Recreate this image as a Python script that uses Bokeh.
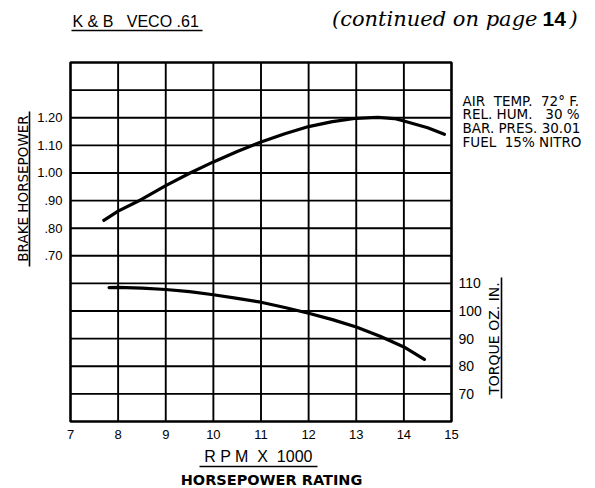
import math
from bokeh.plotting import figure
from bokeh.models import (Range1d, LinearAxis, FixedTicker, CustomJSTickFormatter,
                          Label, Arrow)
from bokeh.embed import file_html
from bokeh.resources import INLINE

# ---- data ----
rpm_ticks = [7, 8, 9, 10, 11, 12, 13, 14, 15]
hp_grid = [0.1, 0.2, 0.3, 0.4, 0.5, 0.6, 0.7, 0.8, 0.9, 1.0, 1.1, 1.2, 1.3, 1.4]
hp_ticks = [0.7, 0.8, 0.9, 1.0, 1.1, 1.2]
torque_ticks = [70, 80, 90, 100, 110]

hp_rpm = [7.70, 8.0, 8.5, 9.0, 9.5, 10.0, 10.5, 11.0, 11.5, 12.0, 12.5, 13.0, 13.45, 13.8, 14.0, 14.5, 14.85]
hp_val = [0.828, 0.862, 0.905, 0.954, 0.999, 1.040, 1.078, 1.112, 1.142, 1.168, 1.186, 1.198, 1.201, 1.197, 1.188, 1.164, 1.140]

tq_rpm = [7.81, 8.0, 8.5, 9.0, 9.5, 10.0, 10.5, 11.0, 11.5, 12.0, 12.5, 13.0, 13.5, 14.0, 14.43]
tq_val = [108.5, 108.6, 108.3, 107.8, 107.0, 105.9, 104.6, 103.2, 101.3, 99.2, 96.9, 94.2, 90.9, 87.0, 82.5]

NB = "\u00a0"
notes = ["AIR" + NB + " TEMP." + NB + " 72°" + NB + "F.",
         "REL." + NB + "HUM." + NB + NB + " 30" + NB + "%",
         "BAR. PRES. 30.01",
         "FUEL" + NB + " 15% NITRO"]

W, H = 595, 488
FONT = "Liberation Sans"
WIDE = "DejaVu Sans"

# pixel -> data helpers (chart box: x 70..451 px = 7..15, y 62..421 px = 1.40..0.10)
def dx(px):
    return 7 + (px - 70) * 8.0 / 381.0

def dy(py):
    return 1.40 - (py - 62) * 1.30 / 359.0

def hp_to_tq(v):
    return v * 100 + 50

p = figure(width=W, height=H, min_border=0,
           x_range=Range1d(dx(0), dx(W)), y_range=Range1d(dy(H), dy(0)),
           output_backend="svg", toolbar_location=None,
           background_fill_color="white", border_fill_color="white",
           x_axis_type=None, y_axis_type=None)
p.outline_line_color = None
p.xgrid.visible = False
p.ygrid.visible = False
p.extra_y_ranges = {"torque": Range1d(hp_to_tq(dy(H)), hp_to_tq(dy(0)))}

# ---- axes drawn at the chart box edges ----
xaxis = LinearAxis(ticker=FixedTicker(ticks=rpm_ticks), fixed_location=hp_grid[0])
yaxis = LinearAxis(ticker=FixedTicker(ticks=hp_ticks), fixed_location=rpm_ticks[0],
                   formatter=CustomJSTickFormatter(code="return tick.toFixed(2).replace(/^0\\./, '.');"))
raxis = LinearAxis(y_range_name="torque", ticker=FixedTicker(ticks=torque_ticks),
                   fixed_location=rpm_ticks[-1])
for ax, standoff, size in ((xaxis, 8, "13px"), (yaxis, 8, "13px"), (raxis, 7, "14px")):
    ax.axis_line_color = None
    ax.major_tick_line_color = None
    ax.minor_tick_line_color = None
    ax.major_tick_in = 0
    ax.major_tick_out = 0
    ax.major_label_standoff = standoff
    ax.major_label_text_font = FONT
    ax.major_label_text_font_size = size
    ax.major_label_text_color = "black"
p.add_layout(xaxis, "below")
p.add_layout(yaxis, "left")
p.add_layout(raxis, "right")

# ---- grid of the chart ----
inner_x = rpm_ticks[1:-1]
inner_y = hp_grid[1:-1]
p.segment(x0=inner_x, x1=inner_x, y0=[hp_grid[0]] * len(inner_x), y1=[hp_grid[-1]] * len(inner_x),
          line_color="black", line_width=1.9)
p.segment(x0=[rpm_ticks[0]] * len(inner_y), x1=[rpm_ticks[-1]] * len(inner_y), y0=inner_y, y1=inner_y,
          line_color="black", line_width=1.9)
p.quad(left=rpm_ticks[0], right=rpm_ticks[-1], bottom=hp_grid[0], top=hp_grid[-1],
       fill_color=None, line_color="black", line_width=2.6)

# ---- curves ----
p.line(hp_rpm, hp_val, line_color="black", line_width=3.2, line_cap="round")
p.line(tq_rpm, tq_val, y_range_name="torque", line_color="black", line_width=3.2, line_cap="round")

# ---- texts ----
def text(s, px, py, size, align="left", angle=0, font=FONT, style="normal"):
    p.add_layout(Label(x=dx(px), y=dy(py), text=s, text_font=font, text_font_size=size,
                       text_font_style=style, text_align=align, text_baseline="middle",
                       angle=angle, text_color="black"))

def rule(x0, y0, x1, y1, w=1.6):
    p.add_layout(Arrow(end=None, start=None, x_start=dx(x0), y_start=dy(y0),
                       x_end=dx(x1), y_end=dy(y1), line_color="black", line_width=w))

# header
text("K & B" + NB + NB + " VECO .61", 72, 21, "16px")
rule(71, 30, 202, 30)
text("(continued on page", 537, 18, "21px", align="right", font="DejaVu Serif", style="italic")
text("14", 542, 18, "21px", style="bold")
text(")", 569, 18, "21px", font="DejaVu Serif", style="italic")

# left axis title
text("BRAKE HORSEPOWER", 22, 188, "13.5px", align="center", angle=math.pi / 2, font=WIDE)
rule(29, 111, 29, 266)

# right axis title
text("TORQUE OZ. IN.", 493, 338, "14px", align="center", angle=math.pi / 2, font=WIDE)
rule(501, 277, 501, 398)

# test conditions
for i, s in enumerate(notes):
    text(s, 462, 100 + i * 13.7, "13.5px", font=WIDE)

# bottom titles
text("R P M" + NB + NB + "X" + NB + NB + "1000", 258, 456, "16px", align="center")
rule(199, 466, 317, 466)
text("HORSEPOWER RATING", 271, 479, "14.5px", align="center", font=WIDE, style="bold")

open("out.html", "w").write(file_html(p, INLINE))
